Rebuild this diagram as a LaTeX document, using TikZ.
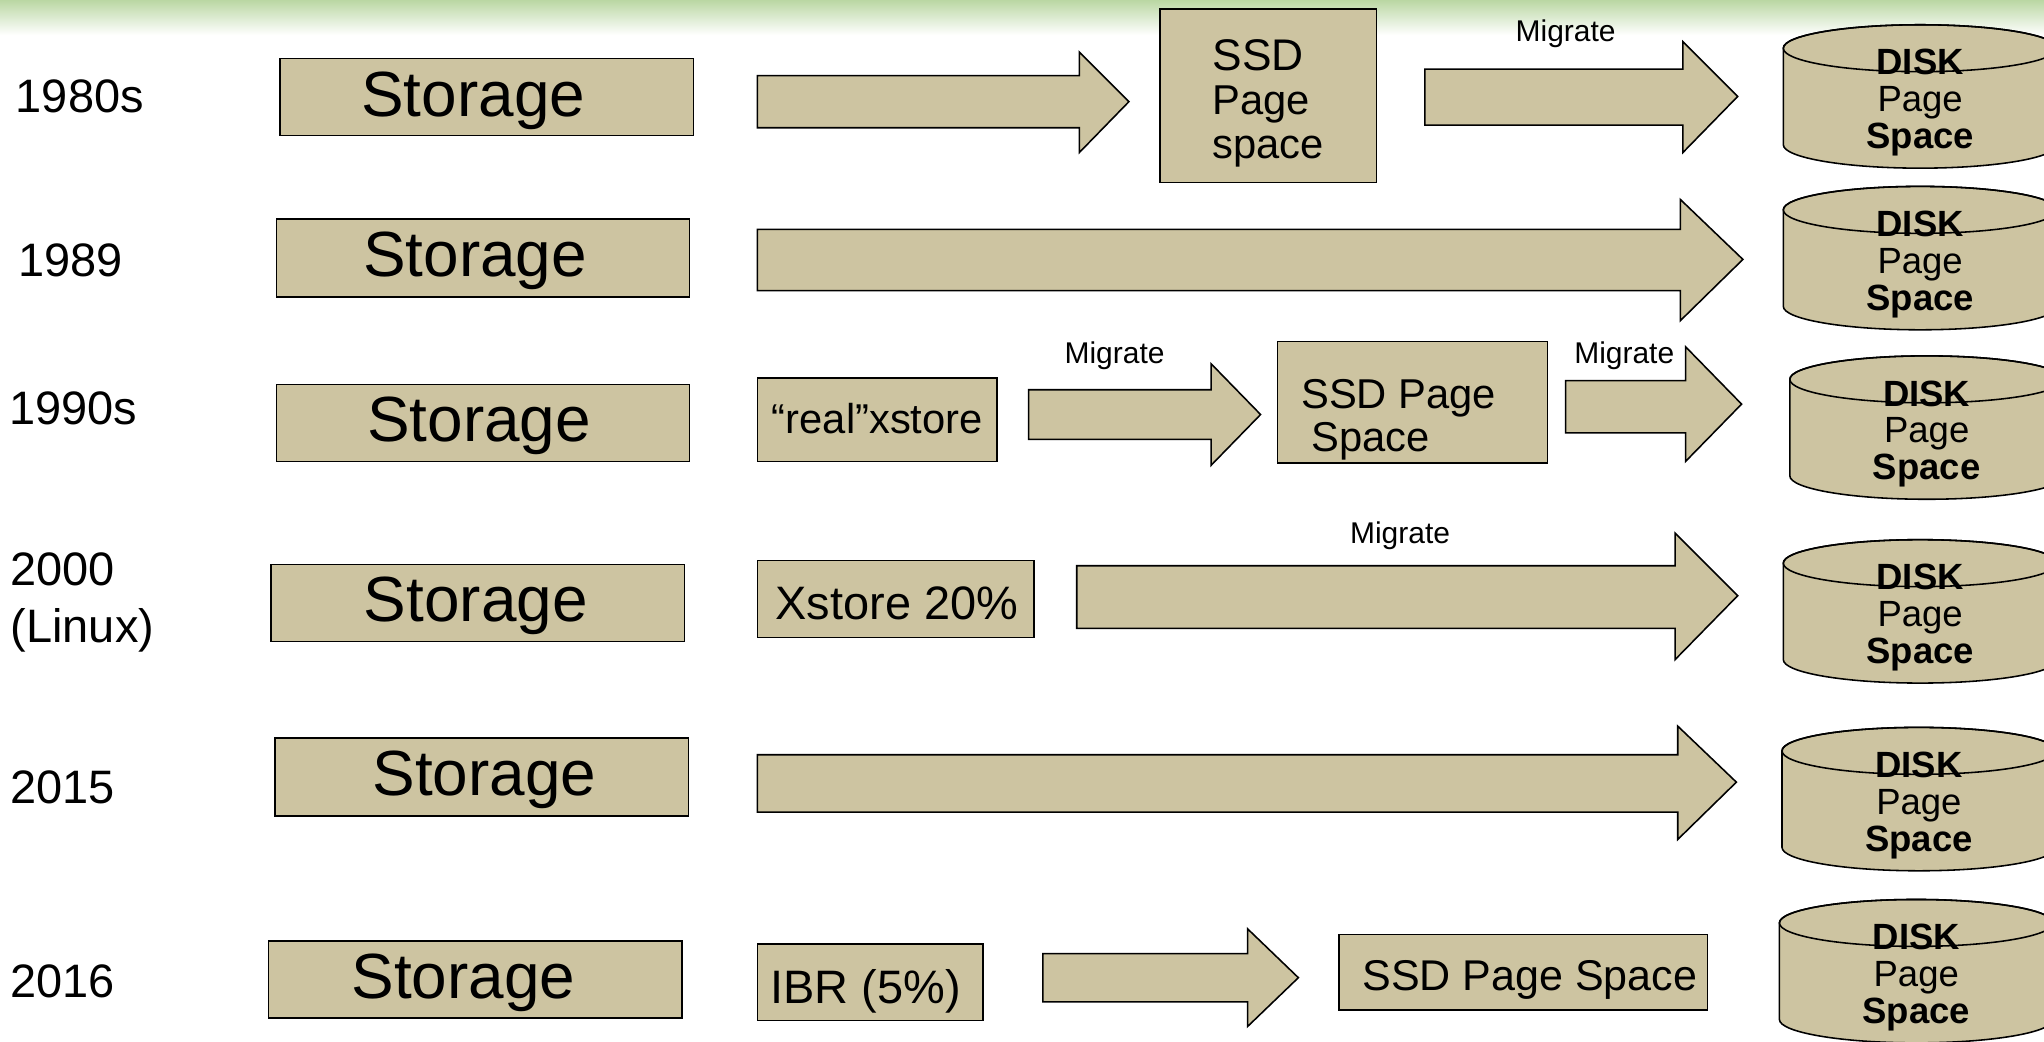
\documentclass[tikz,border=0pt]{standalone}
\usepackage{fontspec}
\setmainfont{Liberation Sans}
\definecolor{boxtan}{RGB}{205,196,161}
\definecolor{gtop}{RGB}{186,215,163}
\newcommand\fsz[1]{\fontsize{#1}{#1}\selectfont}
\tikzset{
  tbox/.style={draw=black, fill=boxtan, line width=1.2pt, rectangle, inner sep=0pt},
  barrow/.style={draw=black, fill=boxtan, line width=1.2pt, line join=miter},
  cylst/.style={draw=black, fill=boxtan, line width=1.2pt},
  yearlbl/.style={anchor=base west, inner sep=0pt, font=\fsz{36}},
  sttxt/.style={anchor=base, inner sep=0pt, font=\fsz{49}},
  migr/.style={anchor=base, inner sep=0pt, font=\fsz{23}},
  btxt/.style={inner sep=0pt},
}
\newcommand\blkarrow[9]{% name x0 xh xt ybt ybb yht yhb ytip
  \filldraw[barrow] (#2,#5) -- (#3,#5) -- (#3,#7) -- (#4,#9) coordinate (#1) -- (#3,#8) -- (#3,#6) -- (#2,#6) -- cycle;}
\newcommand\dcyl[3]{% name L top
  \filldraw[cylst] (#2,#3+18) -- (#2,#3+92) arc[start angle=180,end angle=0,x radius=105,y radius=18]
     -- (#2+210,#3+18) arc[start angle=0,end angle=-180,x radius=105,y radius=18] -- cycle;
  \draw[cylst, fill=none] (#2+105,#3+18) ellipse[x radius=105,y radius=18];
  \node[anchor=base, inner sep=0pt, font=\fsz{28}\bfseries] (#1a) at (#2+105,#3+38.5) {DISK};
  \node[anchor=base, inner sep=0pt, font=\fsz{28}] (#1b) at (#2+105,#3+66.7) {Page};
  \node[anchor=base, inner sep=0pt, font=\fsz{28}\bfseries] (#1c) at (#2+105,#3+95) {Space};
}
\begin{document}
\begin{tikzpicture}[x=1pt,y=-1pt]
\useasboundingbox (0,0) rectangle (1568,799);
\clip (0,0) rectangle (1568,799);
\fill[white] (0,0) rectangle (1568,799);
\shade[top color=gtop, bottom color=white] (0,0) rectangle (1568,27);

% year labels
\node[yearlbl] (y1) at (12,86) {1980s};
\node[yearlbl] (y2) at (14,212) {1989};
\node[yearlbl] (y3) at (7,326) {1990s};
\node[yearlbl] (y4a) at (8,449) {2000};
\node[yearlbl] (y4b) at (8,493) {(Linux)};
\node[yearlbl] (y5) at (8,616) {2015};
\node[yearlbl] (y6) at (8,765) {2016};

% storage boxes
\node[tbox, minimum width=317pt, minimum height=59pt] (s1) at (373.5,74.5) {};
\node[tbox, minimum width=317pt, minimum height=60pt] (s2) at (370.5,198) {};
\node[tbox, minimum width=317pt, minimum height=59pt] (s3) at (370.5,324.5) {};
\node[tbox, minimum width=317pt, minimum height=59pt] (s4) at (366.5,462.5) {};
\node[tbox, minimum width=317pt, minimum height=60pt] (s5) at (369.5,596) {};
\node[tbox, minimum width=317pt, minimum height=59pt] (s6) at (364.5,751.5) {};
\node[sttxt] (s1t) at (363,89) {Storage};
\node[sttxt] (s2t) at (364.5,212) {Storage};
\node[sttxt] (s3t) at (367.5,339) {Storage};
\node[sttxt] (s4t) at (365,477) {Storage};
\node[sttxt] (s5t) at (371.5,610) {Storage};
\node[sttxt] (s6t) at (355.5,766) {Storage};

% other boxes
\node[tbox, minimum width=166pt, minimum height=133pt] (ssd1) at (973,73.5) {};
\node[btxt, anchor=base west, font=\fsz{34}] (ssd1a) at (930,54) {SSD};
\node[btxt, anchor=base west, font=\fsz{32}] (ssd1b) at (930,88) {Page};
\node[btxt, anchor=base west, font=\fsz{32}] (ssd1c) at (930,121.5) {space};

\node[tbox, minimum width=184pt, minimum height=64pt] (rx) at (673,322) {};
\node[btxt, anchor=base, font=\fsz{32}] (rxt) at (673,332.5) {“real”xstore};

\node[tbox, minimum width=207pt, minimum height=93pt] (ssd3) at (1083.5,308.5) {};
\node[btxt, anchor=base west, font=\fsz{32}] (ssd3a) at (998,313.5) {SSD Page};
\node[btxt, anchor=base west, font=\fsz{32}] (ssd3b) at (1006,346.5) {Space};

\node[tbox, minimum width=212pt, minimum height=59pt] (xs) at (687,459.5) {};
\node[btxt, anchor=base, font=\fsz{36}] (xst) at (688,475) {Xstore 20\%};

\node[tbox, minimum width=173pt, minimum height=59pt] (ibr) at (667.5,753.5) {};
\node[btxt, anchor=base, font=\fsz{36}] (ibrt) at (664,770) {IBR (5\%)};

\node[tbox, minimum width=283pt, minimum height=58pt] (ssd6) at (1168.5,746) {};
\node[btxt, anchor=base, font=\fsz{33}] (ssd6t) at (1173.5,760) {SSD Page Space};

% block arrows
\blkarrow{a1}{581}{828}{866}{58}{98}{40}{117}{78}
\blkarrow{a2}{1093}{1291}{1333}{53}{96}{32}{117}{74}
\blkarrow{a3}{581}{1289}{1337}{176}{223}{153}{246}{199}
\blkarrow{a4}{789}{929}{967}{299}{337}{279}{357}{318}
\blkarrow{a5}{1201}{1293}{1336}{292}{332}{266}{354}{310}
\blkarrow{a6}{826}{1285}{1333}{434}{482}{409}{506}{457}
\blkarrow{a7}{581}{1287}{1332}{579}{623}{557}{644}{600}
\blkarrow{a8}{800}{957}{996}{731.5}{768.5}{712.5}{787.5}{750}

% migrate labels
\node[migr] (m1) at (1201,32) {Migrate};
\node[migr] (m2) at (855,279) {Migrate};
\node[migr] (m3) at (1246,279) {Migrate};
\node[migr] (m4) at (1074,417) {Migrate};

% disks
\dcyl{d1}{1368}{19}
\dcyl{d2}{1368}{143}
\dcyl{d3}{1373}{273}
\dcyl{d4}{1368}{414}
\dcyl{d5}{1367}{558}
\dcyl{d6}{1365}{690}
\end{tikzpicture}
\end{document}
